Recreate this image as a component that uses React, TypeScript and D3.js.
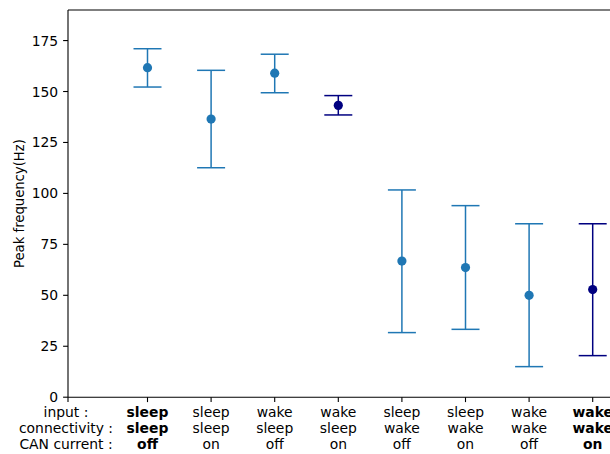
import React from "react";
import * as d3 from "d3";

const categories = [
  ["sleep", "sleep", "off"],
  ["sleep", "sleep", "on"],
  ["wake", "sleep", "off"],
  ["wake", "sleep", "on"],
  ["sleep", "wake", "off"],
  ["sleep", "wake", "on"],
  ["wake", "wake", "off"],
  ["wake", "wake", "on"],
];
const rowLabels = ["input :", "connectivity :", "CAN current :"];
const boldFlags = [true, false, false, false, false, false, false, true];
const means = [161.7, 136.5, 159.0, 143.2, 66.8, 63.6, 50.0, 52.8];
const upper = [171.0, 160.4, 168.3, 148.0, 101.7, 94.0, 85.1, 85.1];
const lower = [152.2, 112.6, 149.4, 138.5, 31.7, 33.3, 15.0, 20.4];
const highlight = [false, false, false, true, false, false, false, true];
const yTicks = [0, 25, 50, 75, 100, 125, 150, 175];

const W = 610;
const H = 454;

export default function App() {
  const x = d3.scaleLinear().domain([0, 9]).range([68, 68 + 63.6 * 9]);
  const y = d3.scaleLinear().domain([0, 190]).range([397.2, 10]);
  const pos = (i: number) => 1.25 + i;
  const font = "DejaVu Sans, sans-serif";
  const fs = 13.9;
  const blue = "#1f77b4";
  const navy = "#000080";
  const cap = 14;
  const x0 = x(0);
  const yBottom = y(0);
  const yTop = y(190);
  const lineH = 16;
  return (
    <svg
      width={W}
      height={H}
      style={{ position: "absolute", left: 0, top: 0, background: "#fff" }}
      fontFamily={font}
      fontSize={fs}
    >
      <rect x={0} y={0} width={W} height={H} fill="#fff" />
      {/* error bars */}
      {means.map((m, i) => {
        const cx = x(pos(i));
        const c = highlight[i] ? navy : blue;
        return (
          <g key={i} stroke={c} strokeWidth={1.5}>
            <line x1={cx} x2={cx} y1={y(upper[i])} y2={y(lower[i])} />
            <line x1={cx - cap} x2={cx + cap} y1={y(upper[i])} y2={y(upper[i])} />
            <line x1={cx - cap} x2={cx + cap} y1={y(lower[i])} y2={y(lower[i])} />
            <circle cx={cx} cy={y(m)} r={4.6} fill={c} stroke="none" />
          </g>
        );
      })}
      {/* spines */}
      <line x1={x0} x2={W + 10} y1={yTop} y2={yTop} stroke="#000" strokeWidth={1.1} />
      <line x1={x0} x2={W + 10} y1={yBottom} y2={yBottom} stroke="#000" strokeWidth={1.1} />
      <line x1={x0} x2={x0} y1={yTop} y2={yBottom} stroke="#000" strokeWidth={1.1} />
      {/* y ticks */}
      {yTicks.map((t) => (
        <g key={t}>
          <line x1={x0 - 4.9} x2={x0} y1={y(t)} y2={y(t)} stroke="#000" strokeWidth={1.1} />
          <text x={x0 - 9.8} y={y(t)} textAnchor="end" dominantBaseline="central" fill="#000">
            {t}
          </text>
        </g>
      ))}
      <text
        transform={`translate(24,${(yTop + yBottom) / 2}) rotate(-90)`}
        textAnchor="middle"
        fill="#000"
        fontSize={13.2}
      >
        Peak frequency(Hz)
      </text>
      {/* x ticks */}
      <line x1={x0} x2={x0} y1={yBottom} y2={yBottom + 4.9} stroke="#000" strokeWidth={1.1} />
      {rowLabels.map((r, k) => (
        <text key={r} x={x0 - 2} y={417 + k * lineH} textAnchor="middle" fill="#000">
          {r}
        </text>
      ))}
      {categories.map((cat, i) => {
        const cx = x(pos(i));
        return (
          <g key={i}>
            <line x1={cx} x2={cx} y1={yBottom} y2={yBottom + 4.9} stroke="#000" strokeWidth={1.1} />
            {cat.map((s, k) => (
              <text
                key={k}
                x={cx}
                y={417 + k * lineH}
                textAnchor="middle"
                fill="#000"
                fontWeight={boldFlags[i] ? "bold" : "normal"}
              >
                {s}
              </text>
            ))}
          </g>
        );
      })}
    </svg>
  );
}
